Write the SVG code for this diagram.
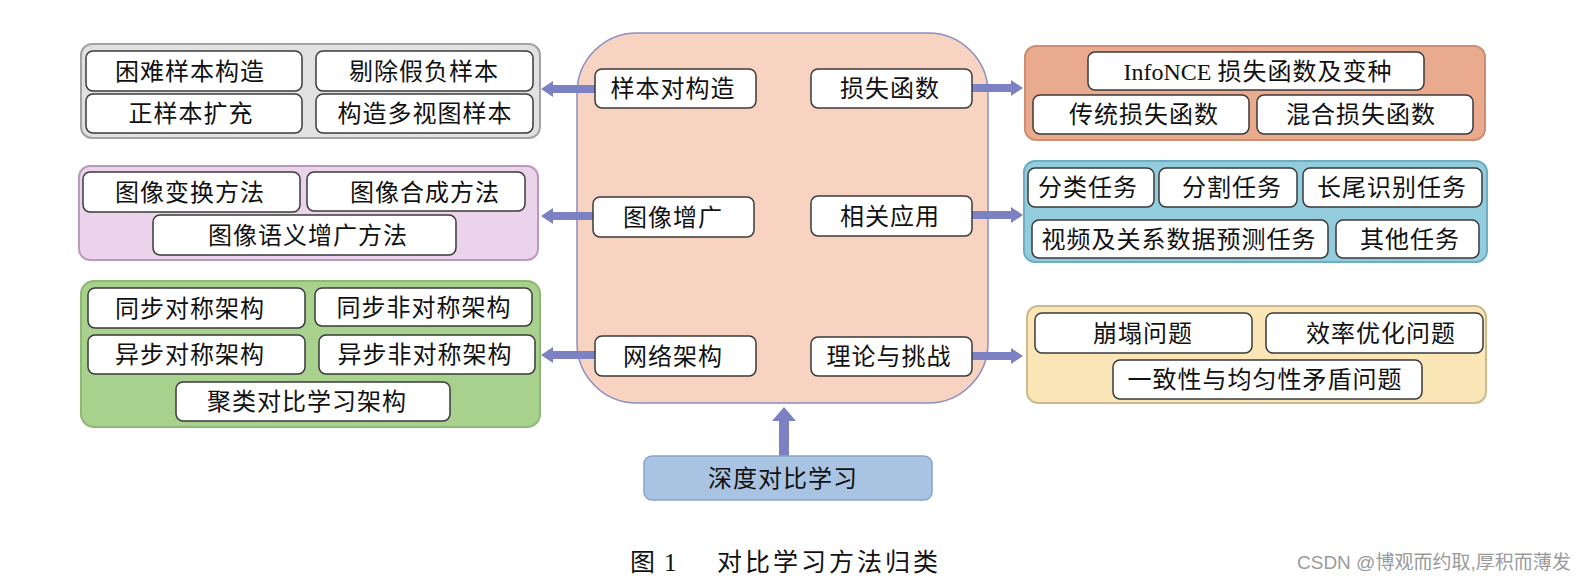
<svg xmlns="http://www.w3.org/2000/svg" width="1588" height="580" viewBox="0 0 1588 580">
<style>
.t{font-family:"Noto Sans CJK SC","Noto Sans",sans-serif;font-size:24px;letter-spacing:1px;fill:#111;text-anchor:middle}
.b{fill:#fff;stroke:#3a3a3a;stroke-width:1.5}
.c{stroke-width:2}
.ar{fill:#7c81c3}
.cap{font-family:"Noto Sans CJK SC",sans-serif;font-size:25px;fill:#111;letter-spacing:3px}
.wm{font-family:"Liberation Sans","Noto Sans CJK SC",sans-serif;font-size:19px;fill:#9a9a9a}
</style>
<rect width="1588" height="580" fill="#fff"/>

<g id="center">
<rect x="577" y="33" width="411" height="370" rx="60" fill="#f8d3c2" stroke="#8a8fc0" stroke-width="1.5"/>
</g>

<g id="connectors">
<polygon class="ar" points="541,89 553,81 553,85 596,85 596,93 553,93 553,97"/>
<polygon class="ar" points="541,216 553,208 553,212 594,212 594,220 553,220 553,224"/>
<polygon class="ar" points="541,355 553,347 553,351 596,351 596,359 553,359 553,363"/>
<polygon class="ar" points="1023,88 1011,80 1011,84 971,84 971,92 1011,92 1011,96"/>
<polygon class="ar" points="1023,215 1011,207 1011,211 971,211 971,219 1011,219 1011,223"/>
<polygon class="ar" points="1023,356 1011,348 1011,352 971,352 971,360 1011,360 1011,364"/>
<polygon class="ar" points="784,407 796,421 789,421 789,456 779,456 779,421 772,421"/>
</g>

<g id="sample-group">
<rect class="c" x="81" y="44" width="459" height="94" rx="11" fill="#e1e1e1" stroke="#a3a3a3"/>
<g id="n-hard"><rect class="b" x="86" y="51" width="216" height="40" rx="7"/><text class="t" x="190" y="80">困难样本构造</text></g>
<g id="n-remove"><rect class="b" x="316" y="51" width="217" height="40" rx="7"/><text class="t" x="424" y="80">剔除假负样本</text></g>
<g id="n-pos"><rect class="b" x="86" y="94" width="216" height="39" rx="7"/><text class="t" x="191" y="122">正样本扩充</text></g>
<g id="n-multi"><rect class="b" x="316" y="94" width="217" height="39" rx="7"/><text class="t" x="425" y="122">构造多视图样本</text></g>
</g>

<g id="aug-group">
<rect class="c" x="79" y="166" width="459" height="94" rx="11" fill="#ebd4eb" stroke="#bb9bbb"/>
<g id="n-trans"><rect class="b" x="83" y="172" width="217" height="40" rx="7"/><text class="t" x="190" y="201">图像变换方法</text></g>
<g id="n-synth"><rect class="b" x="307" y="172" width="218" height="39" rx="7"/><text class="t" x="425" y="201">图像合成方法</text></g>
<g id="n-sem"><rect class="b" x="153" y="215" width="303" height="40" rx="7"/><text class="t" x="308" y="244">图像语义增广方法</text></g>
</g>

<g id="arch-group">
<rect class="c" x="81" y="281" width="459" height="146" rx="13" fill="#a9d18e" stroke="#8db877"/>
<g id="n-ss"><rect class="b" x="88" y="288" width="217" height="40" rx="7"/><text class="t" x="190" y="317">同步对称架构</text></g>
<g id="n-sa"><rect class="b" x="315" y="288" width="217" height="38" rx="7"/><text class="t" x="424" y="316">同步非对称架构</text></g>
<g id="n-as"><rect class="b" x="88" y="335" width="217" height="39" rx="7"/><text class="t" x="190" y="363">异步对称架构</text></g>
<g id="n-aa"><rect class="b" x="319" y="335" width="216" height="39" rx="7"/><text class="t" x="425" y="363">异步非对称架构</text></g>
<g id="n-clu"><rect class="b" x="176" y="382" width="274" height="39" rx="7"/><text class="t" x="307" y="410">聚类对比学习架构</text></g>
</g>

<g id="center-items">
<g id="n-pair"><rect class="b" x="595" y="69" width="161" height="39" rx="7"/><text class="t" x="673" y="97">样本对构造</text></g>
<g id="n-loss"><rect class="b" x="811" y="69" width="161" height="39" rx="7"/><text class="t" x="890" y="97">损失函数</text></g>
<g id="n-aug"><rect class="b" x="593" y="197" width="161" height="40" rx="7"/><text class="t" x="673" y="226">图像增广</text></g>
<g id="n-app"><rect class="b" x="811" y="196" width="161" height="40" rx="7"/><text class="t" x="890" y="225">相关应用</text></g>
<g id="n-net"><rect class="b" x="595" y="336" width="161" height="40" rx="7"/><text class="t" x="673" y="365">网络架构</text></g>
<g id="n-theory"><rect class="b" x="811" y="337" width="161" height="39" rx="7"/><text class="t" x="889" y="365">理论与挑战</text></g>
</g>

<g id="loss-group">
<rect class="c" x="1025" y="46" width="460" height="94" rx="11" fill="#e9aa8e" stroke="#cd8f74"/>
<g id="n-infonce"><rect class="b" x="1088" y="52" width="336" height="38" rx="7"/><text class="t" x="1258" y="80"><tspan font-family="Liberation Serif" letter-spacing="0">InfoNCE </tspan>损失函数及变种</text></g>
<g id="n-trad"><rect class="b" x="1033" y="95" width="216" height="39" rx="7"/><text class="t" x="1144" y="123">传统损失函数</text></g>
<g id="n-mix"><rect class="b" x="1257" y="95" width="216" height="39" rx="7"/><text class="t" x="1361" y="123">混合损失函数</text></g>
</g>

<g id="app-group">
<rect class="c" x="1024" y="161" width="463" height="101" rx="11" fill="#93cddd" stroke="#6eaec0"/>
<g id="n-cls"><rect class="b" x="1028" y="168" width="126" height="39" rx="7"/><text class="t" x="1088" y="196">分类任务</text></g>
<g id="n-seg"><rect class="b" x="1159" y="168" width="138" height="39" rx="7"/><text class="t" x="1232" y="196">分割任务</text></g>
<g id="n-lt"><rect class="b" x="1303" y="168" width="179" height="39" rx="7"/><text class="t" x="1392" y="196">长尾识别任务</text></g>
<g id="n-video"><rect class="b" x="1032" y="220" width="296" height="38" rx="7"/><text class="t" x="1179" y="248">视频及关系数据预测任务</text></g>
<g id="n-other"><rect class="b" x="1336" y="220" width="143" height="38" rx="7"/><text class="t" x="1410" y="248">其他任务</text></g>
</g>

<g id="theory-group">
<rect class="c" x="1027" y="306" width="459" height="97" rx="11" fill="#fbe6b8" stroke="#ccb98d"/>
<g id="n-collapse"><rect class="b" x="1035" y="313" width="217" height="40" rx="7"/><text class="t" x="1143" y="342">崩塌问题</text></g>
<g id="n-eff"><rect class="b" x="1266" y="313" width="217" height="40" rx="7"/><text class="t" x="1381" y="342">效率优化问题</text></g>
<g id="n-cons"><rect class="b" x="1113" y="360" width="309" height="39" rx="7"/><text class="t" x="1265" y="388">一致性与均匀性矛盾问题</text></g>
</g>

<g id="root">
<rect x="644" y="456" width="288" height="44" rx="8" fill="#a9c4e2" stroke="#88a5c8" stroke-width="1.5"/>
<text class="t" x="783" y="487">深度对比学习</text>
</g>

<text class="cap" x="630" y="571">图</text>
<text x="664" y="571" font-family="Liberation Serif" font-size="25" fill="#111">1</text>
<text class="cap" x="717" y="571">对比学习方法归类</text>
<text class="wm" x="1297" y="569">CSDN @博观而约取,厚积而薄发</text>
</svg>
